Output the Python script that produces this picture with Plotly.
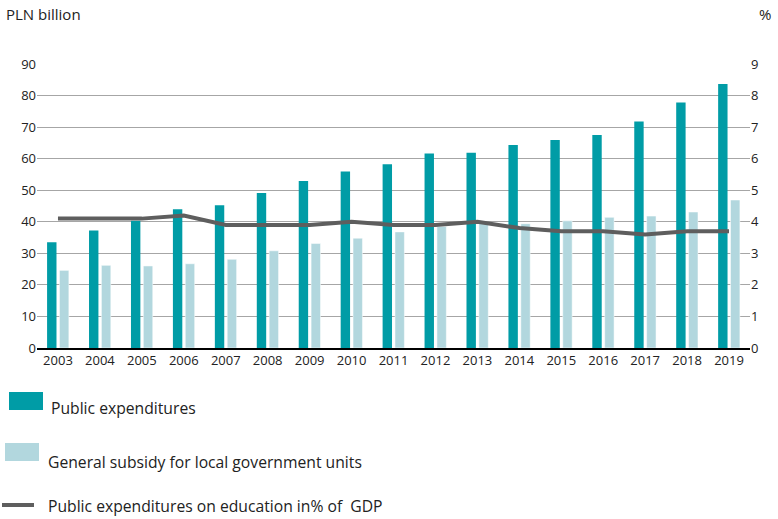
import plotly.graph_objects as go

years = [str(y) for y in range(2003, 2020)]
public_exp = [33.5, 37.2, 40.3, 44.0, 45.2, 49.1, 52.9, 55.9, 58.2, 61.6, 61.9, 64.3, 65.9, 67.5, 71.8, 77.8, 83.7]
subsidy = [24.6, 26.2, 26.0, 26.7, 28.1, 30.8, 33.1, 34.8, 36.8, 38.5, 39.5, 39.4, 40.3, 41.4, 41.8, 43.1, 46.9]
gdp_pct = [4.1, 4.1, 4.1, 4.2, 3.9, 3.9, 3.9, 4.0, 3.9, 3.9, 4.0, 3.8, 3.7, 3.7, 3.6, 3.7, 3.7]

left_ticks = list(range(0, 100, 10))
right_ticks = list(range(0, 10))

DARK = "#009CA6"
LIGHT = "#B2D7DE"
LINE = "#5E5E5E"
FONT = "Open Sans"

L, R, T, B = 37, 28, 64, 171
W = 778 - L - R
H = 519 - T - B

fig = go.Figure()
fig.add_trace(go.Bar(x=years, y=public_exp, name="Public expenditures",
                     marker=dict(color=DARK, line=dict(width=0))))
fig.add_trace(go.Bar(x=years, y=subsidy, name="General subsidy for local government units",
                     marker=dict(color=LIGHT, line=dict(color="white", width=0.5))))
fig.add_trace(go.Scatter(x=years, y=gdp_pct, yaxis="y2", mode="lines",
                         name="Public expenditures on education in% of  GDP",
                         line=dict(color=LINE, width=4)))

fig.update_layout(
    width=778, height=519,
    margin=dict(l=L, r=R, t=T, b=B),
    paper_bgcolor="white", plot_bgcolor="white",
    barmode="group", bargap=0.41, bargroupgap=0.24,
    showlegend=False,
    font=dict(family=FONT, size=13, color="#222222"),
    xaxis=dict(type="category", showgrid=False, showline=True, linecolor="black",
               linewidth=1.5, ticks="", tickfont=dict(size=13, color="#222222")),
    yaxis=dict(range=[0, 90], tickvals=left_ticks, showgrid=True, gridcolor="#A6A6A6",
               gridwidth=1, zeroline=False, ticks="", showline=False,
               tickfont=dict(size=13, color="#222222")),
    yaxis2=dict(range=[0, 9], tickvals=right_ticks, overlaying="y", side="right",
                showgrid=False, zeroline=False, ticks="", showline=False,
                tickfont=dict(size=13, color="#222222")),
)

fig.add_annotation(xref="paper", yref="paper", x=-33/W, y=1 + 50/H, xanchor="left",
                   yanchor="middle", text="PLN billion", showarrow=False,
                   font=dict(size=15, color="#222222"))
fig.add_annotation(xref="paper", yref="paper", x=(765 - L)/W, y=1 + 50/H, xanchor="center",
                   yanchor="middle", text="%", showarrow=False,
                   font=dict(size=15, color="#222222"))

# manual legend (pixel positions converted to paper coords)
def px(xp):
    return (xp - L) / W
def py(yp):
    return (519 - B - yp) / H

legend = [
    (DARK, "rect", 9, 43, 392, 410, "Public expenditures", 49, 408),
    (LIGHT, "rect", 5, 39, 443, 461, "General subsidy for local government units", 46, 462),
    (LINE, "line", 2, 34, 505, 505, "Public expenditures on education in% of  GDP", 46, 506),
]
for color, kind, x0, x1, y0, y1, label, tx, ty in legend:
    if kind == "rect":
        fig.add_shape(type="rect", xref="paper", yref="paper", x0=px(x0), x1=px(x1),
                      y0=py(y0), y1=py(y1), fillcolor=color, line=dict(width=0))
    else:
        fig.add_shape(type="line", xref="paper", yref="paper", x0=px(x0), x1=px(x1),
                      y0=py(y0), y1=py(y1), line=dict(color=color, width=4))
    fig.add_annotation(xref="paper", yref="paper", x=px(tx), y=py(ty), xanchor="left",
                       yanchor="middle", text=label, showarrow=False,
                       font=dict(size=15.7, color="#222222"))

fig.write_html("out.html", config={"displayModeBar": False},
               post_script="document.body.style.margin='0';")
